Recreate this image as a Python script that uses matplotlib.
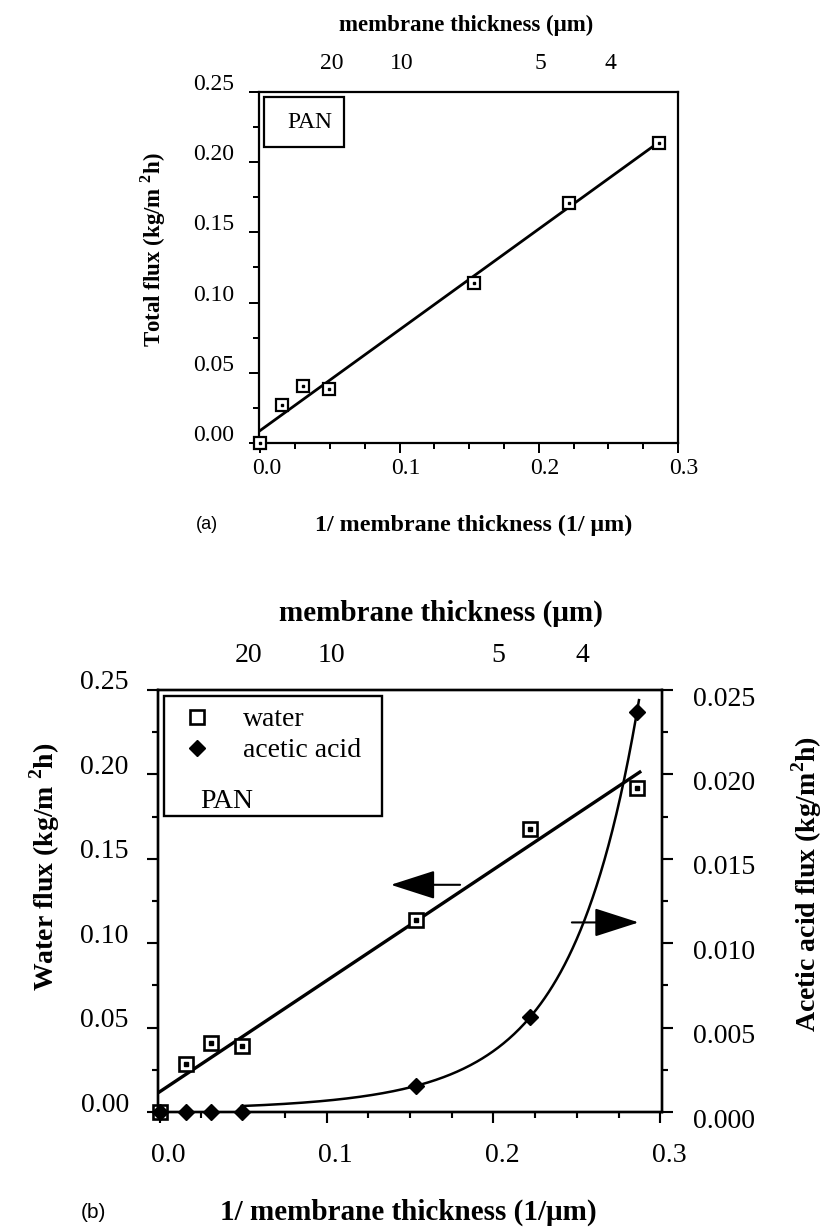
import matplotlib
matplotlib.use('Agg')
import matplotlib.pyplot as plt
import numpy as np
from matplotlib.patches import Rectangle
from matplotlib.ticker import MultipleLocator, FormatStrFormatter
from matplotlib.transforms import ScaledTranslation

plt.rcParams['font.family'] = ['Liberation Serif', 'DejaVu Serif']
plt.rcParams['mathtext.fontset'] = 'custom'
plt.rcParams['mathtext.rm'] = 'Liberation Serif'
plt.rcParams['mathtext.bf'] = 'Liberation Serif:bold'

# 1 / membrane thickness (1/um)
inv_thick = [0.0, 0.0155, 0.0305, 0.0492, 0.1533, 0.2218, 0.2860]
# (a) total flux, kg/m2h
total_flux = [0.0, 0.0273, 0.0404, 0.0387, 0.1140, 0.1710, 0.2140]
# (b) water and acetic acid flux, kg/m2h
water_flux = [0.0, 0.0282, 0.0410, 0.0392, 0.1136, 0.1679, 0.1918]
acid_flux = [0.0, 0.0, 0.0, 0.0, 0.00154, 0.0056, 0.0237]
# top axis labels, membrane thickness (um)
thick_ticks = [20, 10, 5, 4]

W, H = 826, 1230
fig = plt.figure(figsize=(W / 100, H / 100), dpi=100)


def px_box(x0, y0, x1, y1):
    return [x0 / W, 1 - y1 / H, (x1 - x0) / W, (y1 - y0) / H]


def shift(labels, dx, dy):
    # dx, dy in pixels, dy positive = down
    off = ScaledTranslation(dx / 100, -dy / 100, fig.dpi_scale_trans)
    for t in labels:
        t.set_transform(t.get_transform() + off)


def ftext(x, y, s, **kw):
    fig.text(x / W, 1 - y / H, s, ha='center', va='center', **kw)


def style_axes(ax, size, major, minor, lw):
    for s in ax.spines.values():
        s.set_linewidth(lw)
    ax.tick_params(which='both', direction='out', width=lw * 0.9, labelsize=size)
    ax.tick_params(which='major', length=major)
    ax.tick_params(which='minor', length=minor)


x = np.array(inv_thick)

# ---------------- (a) ----------------
ax = fig.add_axes(px_box(259, 92, 678, 443))
ax.set_xlim(-0.001, 0.3)
ax.set_ylim(0, 0.25)
ax.xaxis.set_major_locator(MultipleLocator(0.1))
ax.xaxis.set_minor_locator(MultipleLocator(0.025))
ax.yaxis.set_major_locator(MultipleLocator(0.05))
ax.yaxis.set_minor_locator(MultipleLocator(0.025))
ax.xaxis.set_major_formatter(FormatStrFormatter('%.1f'))
ax.yaxis.set_major_formatter(FormatStrFormatter('%.2f'))
style_axes(ax, 17, 7, 4, 1.6)
ax.tick_params(which='both', top=True, right=False)
ax.tick_params(axis='y', pad=11)
ax.tick_params(axis='x', pad=4)
shift(ax.get_yticklabels(), 0, -10)
shift(ax.get_xticklabels(), 6, 0)

k, b = np.polyfit(x, total_flux, 1)
xs = np.array([0.0, 0.289])
ax.plot(xs, k * xs + b, color='k', lw=2)
ax.plot(x, total_flux, 's', ms=8, mfc='white', mec='k', mew=1.6, clip_on=False, zorder=5)
ax.plot(x, total_flux, 's', ms=1.8, color='k', clip_on=False, zorder=6)

ax.add_patch(Rectangle((0.012, 0.843), 0.191, 0.143, transform=ax.transAxes,
                       fill=False, lw=1.6, ec='k'))
ax.text(0.122, 0.912, 'PAN', transform=ax.transAxes, ha='center', va='center', fontsize=17)

ax_t = ax.twiny()
ax_t.set_xlim(ax.get_xlim())
ax_t.set_xticks([1 / t for t in thick_ticks])
ax_t.set_xticklabels([str(t) for t in thick_ticks])
ax_t.tick_params(length=0, pad=13, labelsize=17)
for s in ax_t.spines.values():
    s.set_visible(False)
shift(ax_t.get_xticklabels(), 2, 0)

ftext(466, 25, 'membrane thickness (μm)', fontsize=16.5, fontweight='bold')
ftext(474, 525, '1/ membrane thickness (1/ μm)', fontsize=17.3, fontweight='bold')
ftext(207, 525, '(a)', fontsize=13, family='Liberation Sans')
ftext(153, 250, r'Total flux (kg/m $^\mathbf{2}$h)', fontsize=16.5, fontweight='bold',
      rotation=90)

# ---------------- (b) ----------------
axb = fig.add_axes(px_box(158, 690, 662, 1112))
axb.set_xlim(-0.001, 0.301)
axb.set_ylim(0, 0.25)
axb.xaxis.set_major_locator(MultipleLocator(0.1))
axb.xaxis.set_minor_locator(MultipleLocator(0.025))
axb.yaxis.set_major_locator(MultipleLocator(0.05))
axb.yaxis.set_minor_locator(MultipleLocator(0.025))
axb.xaxis.set_major_formatter(FormatStrFormatter('%.1f'))
axb.yaxis.set_major_formatter(FormatStrFormatter('%.2f'))
style_axes(axb, 20, 8, 4.5, 1.7)
axb.tick_params(which='both', top=True)
axb.tick_params(axis='y', pad=13)
axb.tick_params(axis='x', pad=14)
shift(axb.get_yticklabels(), 0, -10)
shift(axb.get_xticklabels(), 9, 0)

axr = axb.twinx()
axr.set_ylim(0, 0.025)
axr.yaxis.set_major_locator(MultipleLocator(0.005))
axr.yaxis.set_minor_locator(MultipleLocator(0.0025))
axr.yaxis.set_major_formatter(FormatStrFormatter('%.3f'))
style_axes(axr, 20, 8, 4.5, 1.7)
axr.tick_params(axis='y', pad=14)
shift(axr.get_yticklabels(), 0, 6)

kb, bb = np.polyfit(x, water_flux, 1)
xs = np.array([0.0, 0.2877])
axb.plot(xs, kb * xs + bb, color='k', lw=2.4)
h_w, = axb.plot(x, water_flux, 's', ms=9.5, mfc='white', mec='k', mew=1.9,
                clip_on=False, zorder=5)
axb.plot(x, water_flux, 's', ms=2.2, color='k', clip_on=False, zorder=6)

acid = np.array(acid_flux)
m = acid > 0.001
c2, c1, c0 = np.polyfit(x[m], np.log(acid[m]), 2)
xc = np.linspace(0.0492, 0.2872, 300)
axr.plot(xc, np.exp(c0 + c1 * xc + c2 * xc ** 2), color='k', lw=1.8)
h_a, = axr.plot(x, acid_flux, 'D', ms=8, color='k', clip_on=False, zorder=5)

arrow = dict(arrowstyle='-|>,head_length=1.4,head_width=0.45', color='k', lw=1.5,
             mutation_scale=20, shrinkA=0, shrinkB=0)
axb.annotate('', xy=(0.1385, 0.1346), xytext=(0.180, 0.1346), arrowprops=arrow)
axr.annotate('', xy=(0.287, 0.01123), xytext=(0.247, 0.01123), arrowprops=arrow)

axb.add_patch(Rectangle((0.012, 0.701), 0.432, 0.285, transform=axb.transAxes,
                        fill=False, lw=1.7, ec='k', zorder=4))
axb.legend([h_w, h_a], ['water', 'acetic acid'], loc='upper left',
           bbox_to_anchor=(0.05, 0.96), frameon=False, fontsize=20,
           handlelength=1.0, handletextpad=1.15, labelspacing=0.2,
           borderpad=0, borderaxespad=0)
axb.text(0.083, 0.735, 'PAN', transform=axb.transAxes, ha='left', va='center', fontsize=20)

axt = axb.twiny()
axt.set_xlim(axb.get_xlim())
axt.set_xticks([1 / t for t in thick_ticks])
axt.set_xticklabels([str(t) for t in thick_ticks])
axt.tick_params(length=0, pad=16, labelsize=20)
for s in axt.spines.values():
    s.set_visible(False)
shift(axt.get_xticklabels(), 5, 0)

ftext(441, 613, 'membrane thickness (μm)', fontsize=21, fontweight='bold')
ftext(408, 1212, '1/ membrane thickness (1/μm)', fontsize=21, fontweight='bold')
ftext(93, 1212, '(b)', fontsize=15, family='Liberation Sans')
ftext(45, 867, r'Water flux (kg/m $^\mathbf{2}$h)', fontsize=20, fontweight='bold',
      rotation=90)
ftext(807, 884, r'Acetic acid flux (kg/m$^\mathbf{2}$h)', fontsize=20, fontweight='bold',
      rotation=90)

fig.savefig('out.png', dpi=100)
